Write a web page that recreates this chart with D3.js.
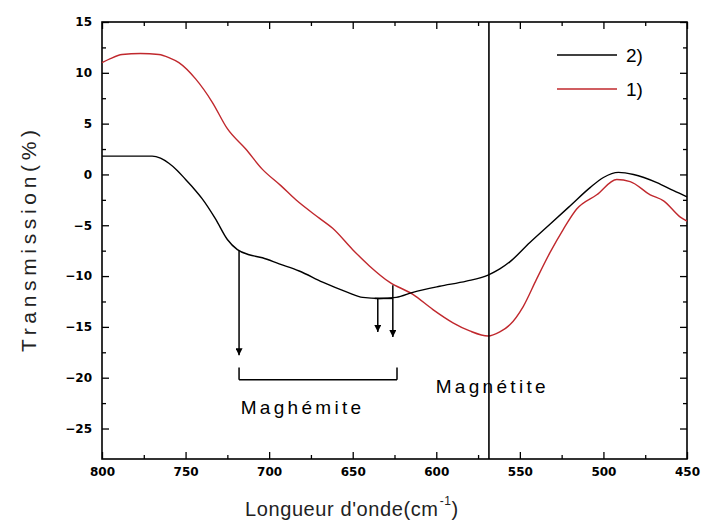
<!DOCTYPE html>
<html><head><meta charset="utf-8">
<script src="https://cdn.jsdelivr.net/npm/d3@7"></script>
<style>body{margin:0;background:#fff} svg{display:block}</style>
</head><body>
<svg id="c" width="702" height="522"></svg>
<script>
// ---- data ----
const wavenumbers2 = [800,790,780,770,765,760,755,750,745,740,732,725,719,712,704,694,682,668,653,644,634,624,614,598,582,569,562,556,544,532,520,508,500,491,482,468,458,450];
const transmission2 = [1.8,1.8,1.8,1.8,1.6,1.1,0.4,-0.5,-1.4,-2.4,-4.4,-6.4,-7.4,-7.9,-8.2,-8.8,-9.5,-10.6,-11.6,-12.1,-12.2,-12.1,-11.6,-11.0,-10.5,-9.9,-9.3,-8.6,-6.7,-4.9,-3.1,-1.3,-0.3,0.2,0.0,-0.8,-1.6,-2.2];
const wavenumbers1 = [800,795,788,777,766,760,754,744,734,725,714,704,693,684,670,662,650,640,628,614,602,590,580,569,562,556,548,540,532,524,516,504,492,484,472,464,454,450];
const transmission1 = [11.0,11.4,11.8,11.9,11.8,11.5,11.0,9.4,7.1,4.5,2.5,0.5,-1.1,-2.5,-4.3,-5.3,-7.4,-9.0,-10.6,-11.8,-13.3,-14.6,-15.4,-15.9,-15.5,-14.8,-13.0,-10.3,-7.7,-5.4,-3.4,-2.0,-0.5,-0.7,-2.0,-2.6,-4.2,-4.6];
const seriesNames = ["2)", "1)"];
const xTickValues = [800,750,700,650,600,550,500,450];
const yTickValues = [-25,-20,-15,-10,-5,0,5,10,15];
const magnetiteWavenumber = 568.5;
const arrowWavenumbers = [718, 635, 626];
const arrowStarts = [-7.5, -12.2, -10.9];
const arrowEnds = [-17.8, -15.5, -16.0];
const bracketWavenumbers = [718, 623.5];
const bracketLevels = [-20.2, -19.0];
const labels = ["Maghémite", "Magnétite"];
const labelWavenumbers = [680, 566.5];
const labelLevels = [-22.9, -20.9];

// ---- chart ----
const svg = d3.select("#c");
const L = 102, R = 687, T = 22, B = 459;
const x = d3.scaleLinear().domain([800,450]).range([L,R]);
const y = d3.scaleLinear().domain([-28,15]).range([B,T]);

svg.append("rect").attr("width",702).attr("height",522).attr("fill","#fff");

const xMinor = d3.range(775, 450, -50);
const yMinor = d3.range(-22.5, 15, 5);
const tickFont = "DejaVu Sans, sans-serif";

function styleAxis(g){ g.select(".domain").remove(); g.selectAll("line").attr("stroke","#000").attr("stroke-width",1.3);
  g.selectAll("text").attr("font-family",tickFont).attr("font-weight","bold").attr("font-size",12).attr("fill","#000"); }

svg.append("g").attr("transform",`translate(0,${B})`)
  .call(d3.axisBottom(x).tickValues(xTickValues).tickSize(-7).tickPadding(8).tickFormat(d3.format("d"))).call(styleAxis);
svg.append("g").attr("transform",`translate(0,${B})`)
  .call(d3.axisBottom(x).tickValues(xMinor).tickSize(-4).tickFormat("")).call(styleAxis);
svg.append("g").attr("transform",`translate(0,${T})`)
  .call(d3.axisTop(x).tickValues(xTickValues).tickSize(-7).tickFormat("")).call(styleAxis);
svg.append("g").attr("transform",`translate(0,${T})`)
  .call(d3.axisTop(x).tickValues(xMinor).tickSize(-4).tickFormat("")).call(styleAxis);
svg.append("g").attr("transform",`translate(${L},0)`)
  .call(d3.axisLeft(y).tickValues(yTickValues).tickSize(-7).tickPadding(10).tickFormat(d3.format("d"))).call(styleAxis);
svg.append("g").attr("transform",`translate(${L},0)`)
  .call(d3.axisLeft(y).tickValues(yMinor).tickSize(-4).tickFormat("")).call(styleAxis);
svg.append("g").attr("transform",`translate(${R},0)`)
  .call(d3.axisRight(y).tickValues(yTickValues).tickSize(-7).tickFormat("")).call(styleAxis);
svg.append("g").attr("transform",`translate(${R},0)`)
  .call(d3.axisRight(y).tickValues(yMinor).tickSize(-4).tickFormat("")).call(styleAxis);

svg.append("rect").attr("x",L).attr("y",T).attr("width",R-L).attr("height",B-T)
  .attr("fill","none").attr("stroke","#000").attr("stroke-width",1.6);

const line = d3.line().x(d=>x(d[0])).y(d=>y(d[1])).curve(d3.curveMonotoneX);
const s2 = wavenumbers2.map((w,i)=>[w,transmission2[i]]);
const s1 = wavenumbers1.map((w,i)=>[w,transmission1[i]]);
svg.append("path").attr("d",line(s1)).attr("fill","none").attr("stroke","#c0282d").attr("stroke-width",1.4);
svg.append("path").attr("d",line(s2)).attr("fill","none").attr("stroke","#000").attr("stroke-width",1.4);

// magnetite line
svg.append("line").attr("x1",x(magnetiteWavenumber)).attr("x2",x(magnetiteWavenumber))
  .attr("y1",y(15)).attr("y2",y(-28)).attr("stroke","#000").attr("stroke-width",1.6);

// arrows
svg.append("defs").append("marker").attr("id","ah").attr("viewBox","0 0 10 10").attr("refX",10).attr("refY",5)
  .attr("markerWidth",7).attr("markerHeight",7).attr("markerUnits","userSpaceOnUse").attr("orient","auto")
  .append("path").attr("d","M0,0L10,5L0,10Z").attr("fill","#000");
arrowWavenumbers.forEach((w,i)=>{
  svg.append("line").attr("x1",x(w)).attr("x2",x(w)).attr("y1",y(arrowStarts[i])).attr("y2",y(arrowEnds[i]))
    .attr("stroke","#000").attr("stroke-width",1.5).attr("marker-end","url(#ah)");
});
svg.append("line").attr("x1",x(arrowWavenumbers[1])-3).attr("x2",x(arrowWavenumbers[2]))
  .attr("y1",y(arrowStarts[1])).attr("y2",y(arrowStarts[1])).attr("stroke","#000").attr("stroke-width",1.5);

// bracket
svg.append("line").attr("x1",x(bracketWavenumbers[0])).attr("x2",x(bracketWavenumbers[1]))
  .attr("y1",y(bracketLevels[0])).attr("y2",y(bracketLevels[0])).attr("stroke","#000").attr("stroke-width",1.5);
bracketWavenumbers.forEach(w=>{
  svg.append("line").attr("x1",x(w)).attr("x2",x(w)).attr("y1",y(bracketLevels[0])).attr("y2",y(bracketLevels[1]))
    .attr("stroke","#000").attr("stroke-width",1.5);
});

// annotation labels
labels.forEach((t,i)=>{
  svg.append("text").attr("x",x(labelWavenumbers[i])).attr("y",y(labelLevels[i])).attr("dy","0.35em")
    .attr("text-anchor","middle").attr("font-family","Liberation Sans, Arial, sans-serif").attr("font-size",19)
    .attr("letter-spacing",3.3).text(t);
});

// legend
const legY = [55, 89];
const legColors = ["#000", "#c0282d"];
seriesNames.forEach((n,i)=>{
  svg.append("line").attr("x1",557).attr("x2",617).attr("y1",legY[i]).attr("y2",legY[i])
    .attr("stroke",legColors[i]).attr("stroke-width",1.5);
  svg.append("text").attr("x",626).attr("y",legY[i]).attr("dy","0.36em").attr("font-family","Liberation Sans, Arial, sans-serif")
    .attr("font-size",19).text(n);
});

// axis titles
svg.append("text").attr("transform","translate(36,241) rotate(-90)").attr("text-anchor","middle")
  .attr("font-family","Liberation Sans, Arial, sans-serif").attr("font-size",21).attr("fill","#222")
  .attr("textLength",222).attr("lengthAdjust","spacing").text("Transmission(%)");
const xt = svg.append("text").attr("x",245).attr("y",516).attr("font-family","Liberation Sans, Arial, sans-serif")
  .attr("font-size",20).attr("fill","#222").attr("letter-spacing",0.6);
xt.append("tspan").text("Longueur d'onde(cm");
xt.append("tspan").attr("font-size",12).attr("dy",-11).attr("dx",1).text("-1");
xt.append("tspan").attr("dy",11).text(")");
</script>
</body></html>
